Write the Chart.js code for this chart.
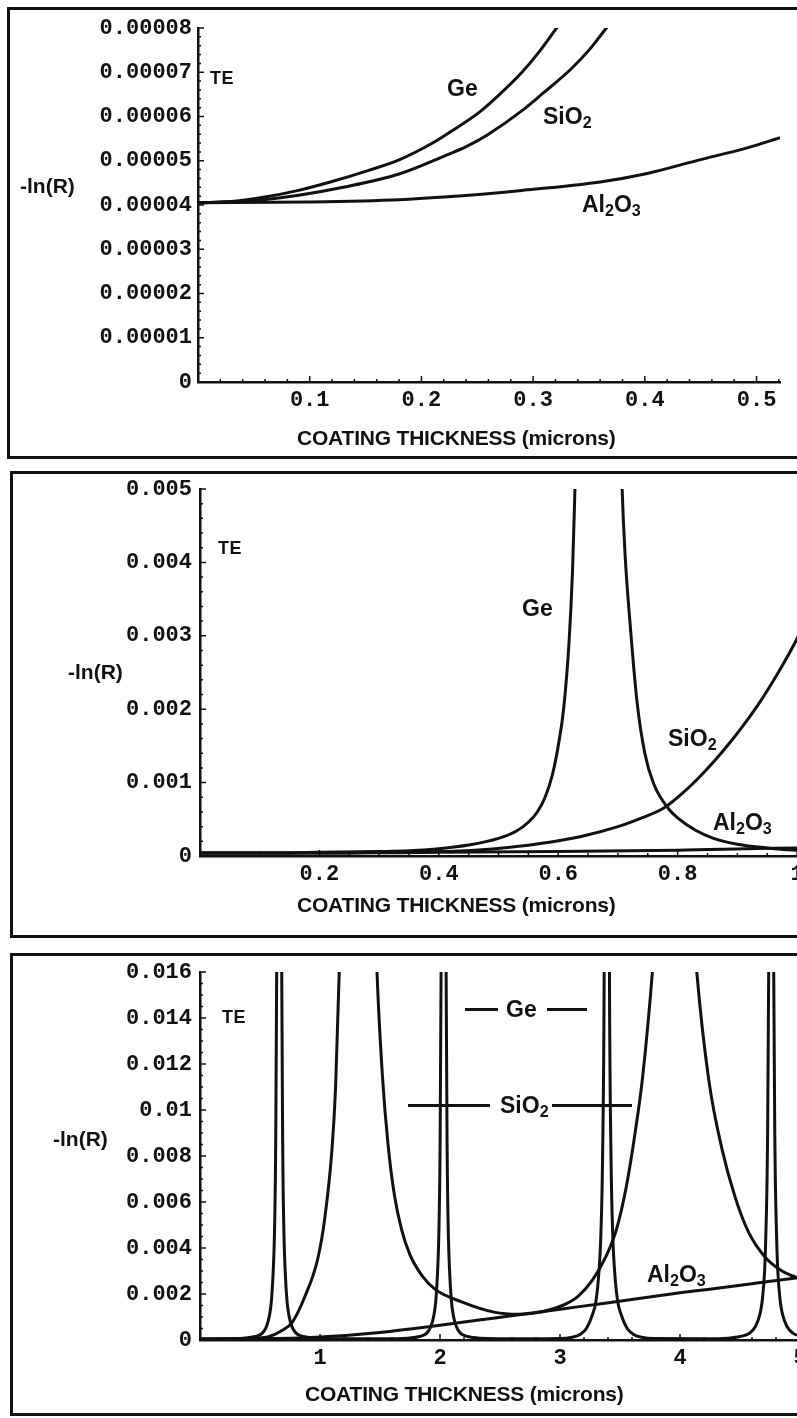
<!DOCTYPE html>
<html>
<head>
<meta charset="utf-8">
<script src="https://cdn.jsdelivr.net/npm/chart.js@4.4.1/dist/chart.umd.min.js"></script>
<style>
html, body { margin: 0; padding: 0; width: 797px; height: 1418px; overflow: hidden; background: #fff; }
canvas { position: absolute; left: 0; }
.frame { position: absolute; border: 3px solid #111; box-sizing: border-box; pointer-events: none; }
.lbl { position: absolute; font-family: 'Liberation Sans', Arial, sans-serif; font-weight: bold; color: #111; white-space: nowrap; line-height: 1; }
.lbl sub { font-size: 70%; vertical-align: -0.25em; line-height: 0; }
.big { font-size: 23px; }
.te { font-size: 18px; letter-spacing: 0.5px; }
.yt { font-size: 21px; }
.xt { font-size: 21px; letter-spacing: -0.2px; }
.dash { position: absolute; height: 3px; background: #111; }
</style>
</head>
<body>
<canvas id="c1" width="830" height="460" style="top:0px"></canvas>
<canvas id="c2" width="830" height="475" style="top:465px"></canvas>
<canvas id="c3" width="830" height="473" style="top:945px"></canvas>

<div class="frame" style="left:7px; top:7px; width:840px; height:452px"></div>
<div class="frame" style="left:10px; top:471px; width:840px; height:467px"></div>
<div class="frame" style="left:10px; top:953px; width:840px; height:463px"></div>

<!-- panel 1 -->
<div class="lbl te" style="left:210px; top:69px">TE</div>
<div class="lbl big" style="left:447px; top:77px">Ge</div>
<div class="lbl big" style="left:543px; top:105px">SiO<sub>2</sub></div>
<div class="lbl big" style="left:582px; top:193px">Al<sub>2</sub>O<sub>3</sub></div>
<div class="lbl yt" style="left:20px; top:175px">-ln(R)</div>
<div class="lbl xt" style="left:297px; top:427px">COATING THICKNESS (microns)</div>

<!-- panel 2 -->
<div class="lbl te" style="left:218px; top:539px">TE</div>
<div class="lbl big" style="left:522px; top:597px">Ge</div>
<div class="lbl big" style="left:668px; top:727px">SiO<sub>2</sub></div>
<div class="lbl big" style="left:713px; top:811px">Al<sub>2</sub>O<sub>3</sub></div>
<div class="lbl yt" style="left:68px; top:661px">-ln(R)</div>
<div class="lbl xt" style="left:297px; top:894px">COATING THICKNESS (microns)</div>

<!-- panel 3 -->
<div class="lbl te" style="left:222px; top:1008px">TE</div>
<div class="dash" style="left:465px; top:1008px; width:33px"></div>
<div class="lbl big" style="left:506px; top:998px">Ge</div>
<div class="dash" style="left:547px; top:1008px; width:40px"></div>
<div class="dash" style="left:408px; top:1104px; width:82px"></div>
<div class="lbl big" style="left:500px; top:1094px">SiO<sub>2</sub></div>
<div class="dash" style="left:552px; top:1104px; width:80px"></div>
<div class="lbl big" style="left:647px; top:1263px">Al<sub>2</sub>O<sub>3</sub></div>
<div class="lbl yt" style="left:53px; top:1128px">-ln(R)</div>
<div class="lbl xt" style="left:305px; top:1383px">COATING THICKNESS (microns)</div>

<script>
// ---- panel 1 : 0 - 0.52 microns, [thickness, -ln(R)] ----
const p1Ge = [[0, 0.0000405], [0.03, 0.0000408], [0.06, 0.0000418], [0.09, 0.0000433], [0.12, 0.0000453],
  [0.15, 0.0000476], [0.18, 0.0000502], [0.21, 0.000054], [0.23, 0.0000572], [0.252, 0.000061],
  [0.27, 0.000065], [0.29, 0.00007], [0.305, 0.0000745], [0.321, 0.00008], [0.33, 0.000083]];
const p1SiO2 = [[0, 0.0000405], [0.05, 0.000041], [0.09, 0.0000422], [0.13, 0.000044], [0.18, 0.000047],
  [0.22, 0.000051], [0.241, 0.0000533], [0.26, 0.000056], [0.291, 0.0000615], [0.31, 0.0000655],
  [0.333, 0.0000705], [0.35, 0.000075], [0.364, 0.0000795], [0.375, 0.000083]];
const p1Al2O3 = [[0, 0.0000405], [0.1, 0.0000407], [0.18, 0.0000412], [0.22, 0.0000418], [0.29, 0.0000433],
  [0.36, 0.0000452], [0.4, 0.000047], [0.449, 0.0000502], [0.49, 0.0000528], [0.521, 0.0000552]];
const p1XTicks = [0.1, 0.2, 0.3, 0.4, 0.5];
const p1XLabels = ['0.1', '0.2', '0.3', '0.4', '0.5'];
const p1YTicks = [0, 0.00001, 0.00002, 0.00003, 0.00004, 0.00005, 0.00006, 0.00007, 0.00008];
const p1YLabels = ['0', '0.00001', '0.00002', '0.00003', '0.00004', '0.00005', '0.00006', '0.00007', '0.00008'];

// ---- panel 2 : 0 - 1 micron ----
const p2Ge = [[0, 0.00004], [0.1, 0.00004], [0.2, 0.00005], [0.3, 0.00006], [0.35, 0.00007], [0.4, 0.0001],
  [0.45, 0.00015], [0.5, 0.00024], [0.53, 0.00034], [0.55, 0.00046], [0.565, 0.0006], [0.578, 0.0008],
  [0.59, 0.0011], [0.6, 0.0015], [0.609, 0.002], [0.618, 0.0029], [0.624, 0.0039], [0.628, 0.005],
  [0.634, 0.0068], [0.667, 0.02], [0.701, 0.0068], [0.707, 0.005], [0.712, 0.0041], [0.72, 0.0032],
  [0.732, 0.0021], [0.745, 0.0014], [0.76, 0.00098], [0.785, 0.00064], [0.8, 0.00052], [0.83, 0.00035],
  [0.86, 0.00024], [0.9, 0.00016], [0.95, 0.00011], [1.0, 0.00008], [1.02, 0.00008]];
const p2SiO2 = [[0, 0.00004], [0.2, 0.00004], [0.3, 0.00005], [0.4, 0.00006], [0.46, 0.00008], [0.52, 0.00012],
  [0.57, 0.00017], [0.64, 0.00027], [0.7, 0.0004], [0.74, 0.00052], [0.776, 0.00065], [0.81, 0.00087],
  [0.837, 0.00108], [0.86, 0.00128], [0.888, 0.00155], [0.91, 0.00178], [0.938, 0.0021], [0.97, 0.00252],
  [1.0, 0.00296], [1.02, 0.0033]];
const p2Al2O3 = [[0, 0.00004], [0.2, 0.00004], [0.4, 0.00005], [0.6, 0.00006], [0.8, 0.00008], [1.0, 0.00011], [1.02, 0.00011]];
const p2XTicks = [0.2, 0.4, 0.6, 0.8, 1];
const p2XLabels = ['0.2', '0.4', '0.6', '0.8', '1'];
const p2YTicks = [0, 0.001, 0.002, 0.003, 0.004, 0.005];
const p2YLabels = ['0', '0.001', '0.002', '0.003', '0.004', '0.005'];

// ---- panel 3 : 0 - 5 microns ----
const p3Ge = [
  [0, 0.00004], [0.2, 0.00005], [0.36, 0.00008], [0.46, 0.00015], [0.52, 0.0003], [0.555, 0.0006],
  [0.58, 0.0011], [0.595, 0.0017], [0.61, 0.003], [0.62, 0.0045], [0.63, 0.008], [0.639, 0.016],
  [0.645, 0.03], [0.66, 0.08], [0.675, 0.03], [0.681, 0.016], [0.69, 0.008], [0.7, 0.0045],
  [0.71, 0.003], [0.725, 0.0017], [0.74, 0.0011], [0.765, 0.0006], [0.8, 0.0003], [0.86, 0.00015],
  [0.96, 0.00008], [1.2, 0.00005], [1.5, 0.00005],
  [1.73, 0.00008], [1.83, 0.00015], [1.89, 0.0003], [1.925, 0.0006], [1.95, 0.0011], [1.965, 0.0017],
  [1.98, 0.003], [1.99, 0.0045], [2.0, 0.008], [2.009, 0.016], [2.015, 0.03], [2.03, 0.08],
  [2.045, 0.03], [2.051, 0.016], [2.06, 0.008], [2.07, 0.0045], [2.08, 0.003], [2.095, 0.0017],
  [2.11, 0.0011], [2.135, 0.0006], [2.17, 0.0003], [2.23, 0.00015], [2.33, 0.00008], [2.7, 0.00005],
  [3.0, 0.00006], [3.1, 0.00012], [3.17, 0.00025], [3.22, 0.0005], [3.27, 0.0011], [3.3, 0.0017],
  [3.325, 0.003], [3.34, 0.0045], [3.355, 0.008], [3.368, 0.016], [3.375, 0.03], [3.39, 0.08],
  [3.405, 0.03], [3.412, 0.016], [3.425, 0.008], [3.44, 0.0045], [3.455, 0.003], [3.48, 0.0017],
  [3.51, 0.0011], [3.56, 0.0005], [3.61, 0.00025], [3.68, 0.00012], [3.78, 0.00006], [4.2, 0.00005],
  [4.4, 0.00008], [4.5, 0.00015], [4.58, 0.0003], [4.63, 0.0006], [4.665, 0.0011], [4.685, 0.0017],
  [4.705, 0.003], [4.715, 0.0045], [4.728, 0.008], [4.739, 0.016], [4.745, 0.03], [4.76, 0.08],
  [4.775, 0.03], [4.781, 0.016], [4.792, 0.008], [4.805, 0.0045], [4.815, 0.003], [4.835, 0.0017],
  [4.855, 0.0011], [4.89, 0.0006], [4.94, 0.0003], [5.0, 0.00018], [5.05, 0.00013]];
const p3SiO2 = [[0, 0.00004], [0.3, 0.00005], [0.45, 0.00008], [0.57, 0.00014], [0.68, 0.0004], [0.77, 0.00078],
  [0.875, 0.0019], [0.98, 0.0035], [1.04, 0.0053], [1.1, 0.0083], [1.13, 0.011], [1.16, 0.016],
  [1.2, 0.024], [1.32, 0.05], [1.43, 0.024], [1.475, 0.016], [1.52, 0.0115], [1.567, 0.0085],
  [1.62, 0.0063], [1.68, 0.0048], [1.75, 0.0037], [1.85, 0.0028], [1.96, 0.0022], [2.18, 0.00166],
  [2.46, 0.0012], [2.65, 0.00112], [2.8, 0.00118], [3.02, 0.0015], [3.15, 0.0019], [3.27, 0.0026],
  [3.38, 0.0036], [3.47, 0.0048], [3.55, 0.0066], [3.62, 0.0088], [3.69, 0.0115], [3.77, 0.016],
  [3.85, 0.022], [3.955, 0.04], [4.06, 0.022], [4.14, 0.016], [4.24, 0.0113], [4.35, 0.0083],
  [4.46, 0.0062], [4.57, 0.0047], [4.71, 0.0036], [4.85, 0.003], [4.975, 0.0027], [5.05, 0.0025]];
const p3Al2O3 = [[0, 0.00004], [0.5, 0.00005], [1.0, 0.00013], [1.5, 0.00033], [2.0, 0.00064], [2.46, 0.00096],
  [3.0, 0.00134], [3.375, 0.0016], [4.0, 0.00205], [4.23, 0.0022], [4.6, 0.00245], [4.96, 0.0027], [5.05, 0.00275]];
const p3XTicks = [1, 2, 3, 4, 5];
const p3XLabels = ['1', '2', '3', '4', '5'];
const p3YTicks = [0, 0.002, 0.004, 0.006, 0.008, 0.01, 0.012, 0.014, 0.016];
const p3YLabels = ['0', '0.002', '0.004', '0.006', '0.008', '0.01', '0.012', '0.014', '0.016'];

const ink = '#111';
const tickFont = { family: "'Liberation Mono', 'DejaVu Sans Mono', monospace", size: 22, weight: 'bold' };

// small tick marks pointing into the plot, like the original
const inwardTicks = {
    id: 'inwardTicks',
    afterDatasetsDraw(chart, args, opts) {
        const { ctx, chartArea: a, scales: { x, y } } = chart;
        ctx.save();
        ctx.strokeStyle = ink;
        ctx.lineWidth = 1.5;
        ctx.beginPath();
        for (let v = opts.xMinor; v < x.max; v += opts.xMinor) {
            const p = x.getPixelForValue(v);
            ctx.moveTo(p, a.bottom); ctx.lineTo(p, a.bottom - 3);
        }
        for (let v = opts.yMinor; v < y.max; v += opts.yMinor) {
            const p = y.getPixelForValue(v);
            ctx.moveTo(a.left, p); ctx.lineTo(a.left + 3, p);
        }
        x.ticks.forEach(t => {
            const p = x.getPixelForValue(t.value);
            ctx.moveTo(p, a.bottom); ctx.lineTo(p, a.bottom - 6);
        });
        y.ticks.forEach(t => {
            const p = y.getPixelForValue(t.value);
            ctx.moveTo(a.left, p); ctx.lineTo(a.left + 6, p);
        });
        ctx.stroke();
        ctx.restore();
    }
};

function series(points) {
    return {
        data: points.map(p => ({ x: p[0], y: p[1] })),
        borderColor: ink,
        borderWidth: 3,
        pointRadius: 0,
        fill: false,
        cubicInterpolationMode: 'monotone',
        clip: 0
    };
}

function makeChart(id, c) {
    return new Chart(document.getElementById(id), {
        type: 'line',
        data: { datasets: c.lines.map(series) },
        options: {
            responsive: false,
            animation: false,
            events: [],
            layout: { padding: c.pad },
            plugins: {
                legend: { display: false },
                tooltip: { enabled: false },
                inwardTicks: { xMinor: c.xMinor, yMinor: c.yMinor }
            },
            scales: {
                x: {
                    type: 'linear', min: 0, max: c.xMax,
                    grid: { display: false, drawTicks: false },
                    border: { display: true, color: ink, width: 2.5 },
                    afterFit: s => { s.height = 40; },
                    afterBuildTicks: s => { s.ticks = c.xTicks.map(v => ({ value: v })); },
                    ticks: { callback: (v, i) => c.xLabels[i], font: tickFont, color: ink, padding: 5, maxRotation: 0, autoSkip: false }
                },
                y: {
                    type: 'linear', min: 0, max: c.yMax,
                    grid: { display: false, drawTicks: false },
                    border: { display: true, color: ink, width: 2.5 },
                    afterFit: s => { s.width = c.yW; },
                    afterBuildTicks: s => { s.ticks = c.yTicks.map(v => ({ value: v })); },
                    ticks: { callback: (v, i) => c.yLabels[i], font: tickFont, color: ink, padding: c.yPad, autoSkip: false }
                }
            }
        },
        plugins: [inwardTicks]
    });
}

makeChart('c1', {
    lines: [p1Ge, p1SiO2, p1Al2O3],
    xMax: 0.521, yMax: 0.00008,
    xTicks: p1XTicks, xLabels: p1XLabels, yTicks: p1YTicks, yLabels: p1YLabels,
    xMinor: 0.02, yMinor: 0.000002,
    pad: { left: 0, top: 28, right: 50, bottom: 38 }, yW: 198, yPad: 6
});
makeChart('c2', {
    lines: [p2Ge, p2SiO2, p2Al2O3],
    xMax: 1.02, yMax: 0.005,
    xTicks: p2XTicks, xLabels: p2XLabels, yTicks: p2YTicks, yLabels: p2YLabels,
    xMinor: 0.05, yMinor: 0.0002,
    pad: { left: 0, top: 24, right: 21, bottom: 44 }, yW: 200, yPad: 8
});
makeChart('c3', {
    lines: [p3Ge, p3SiO2, p3Al2O3],
    xMax: 5.05, yMax: 0.016,
    xTicks: p3XTicks, xLabels: p3XLabels, yTicks: p3YTicks, yLabels: p3YLabels,
    xMinor: 0.2, yMinor: 0.0005,
    pad: { left: 0, top: 27, right: 24, bottom: 38 }, yW: 200, yPad: 8
});
</script>
</body>
</html>
